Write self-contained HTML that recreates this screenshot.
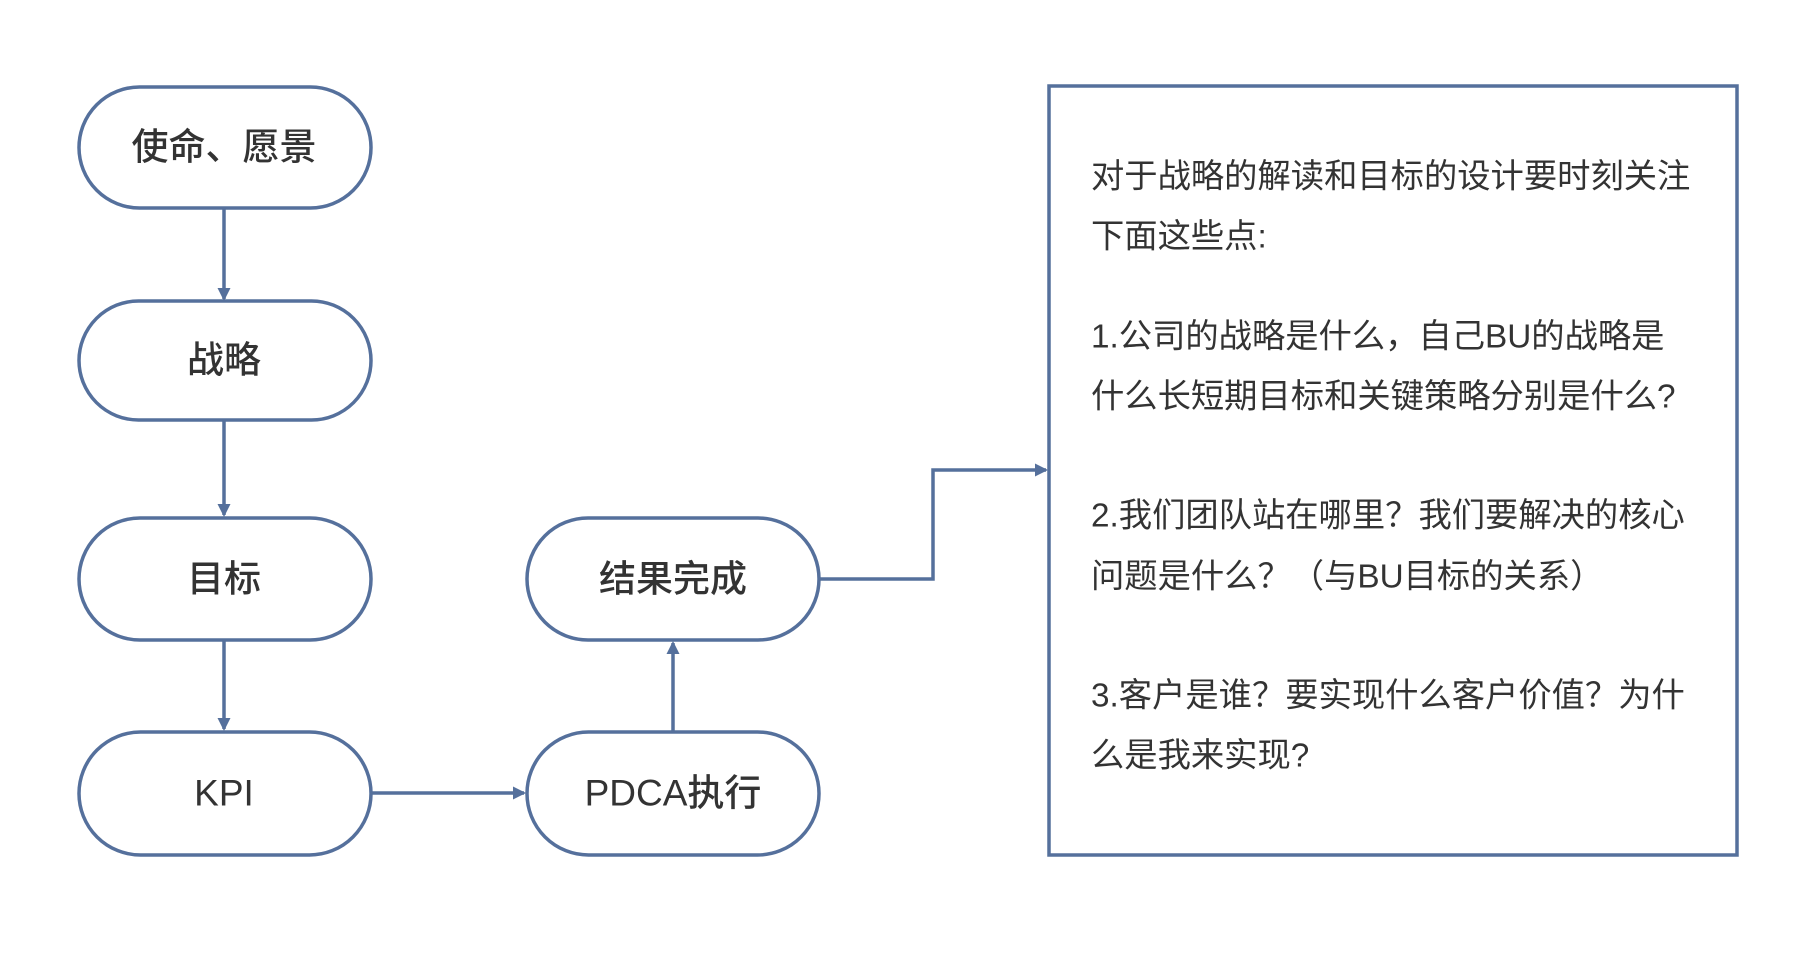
<!DOCTYPE html>
<html><head><meta charset="utf-8"><style>
html,body{margin:0;padding:0;background:#fff;}
svg{display:block;}
text{font-family:"Liberation Sans","Noto Sans CJK SC",sans-serif;fill:#333;}
</style></head><body>
<svg width="1816" height="980" viewBox="0 0 1816 980" xmlns="http://www.w3.org/2000/svg">
<defs>
<marker id="a" markerWidth="13" markerHeight="13" refX="11" refY="6.5" orient="auto" markerUnits="userSpaceOnUse">
<path d="M0,0 L13,6.5 L0,13 z" fill="#55709c"/>
</marker>
</defs>
<g fill="none" stroke="#55709c" stroke-width="3.5">
<rect x="79" y="87" width="292" height="121" rx="60.5"/>
<rect x="79" y="301" width="292" height="119" rx="59.5"/>
<rect x="79" y="518" width="292" height="122" rx="61"/>
<rect x="79" y="732" width="292" height="123" rx="61.5"/>
<rect x="527" y="518" width="292" height="122" rx="61"/>
<rect x="527" y="732" width="292" height="123" rx="61.5"/>
<rect x="1049" y="86" width="688" height="769"/>
<g stroke-width="3.5" marker-end="url(#a)">
<path d="M224,208 V299"/>
<path d="M224,420 V515"/>
<path d="M224,640 V729"/>
<path d="M371,793 H524"/>
<path d="M673,732 V643"/>
<path d="M819,579 H933 V470 H1046"/>
</g>
</g>
<g font-size="37" font-weight="500" text-anchor="middle" dominant-baseline="central">
<text x="224" y="147">使命、愿景</text>
<text x="224" y="360">战略</text>
<text x="224" y="579">目标</text>
<text x="224" y="793">KPI</text>
<text x="673" y="579">结果完成</text>
<text x="673" y="793">PDCA执行</text>
</g>
<g font-size="33.3" dominant-baseline="central">
<text x="1091" y="177">对于战略的解读和目标的设计要时刻关注</text>
<text x="1091" y="237">下面这些点:</text>
<text x="1091" y="337">1.公司的战略是什么，自己BU的战略是</text>
<text x="1091" y="397">什么长短期目标和关键策略分别是什么?</text>
<text x="1091" y="516">2.我们团队站在哪里？我们要解决的核心</text>
<text x="1091" y="577">问题是什么？（与BU目标的关系）</text>
<text x="1091" y="696">3.客户是谁？要实现什么客户价值？为什</text>
<text x="1091" y="756">么是我来实现?</text>
</g>
</svg>
</body></html>
